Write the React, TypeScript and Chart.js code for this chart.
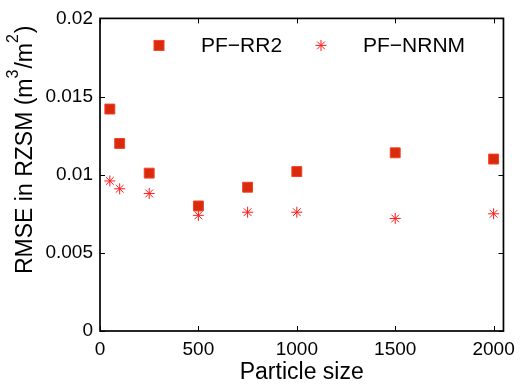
import React, { useEffect, useRef } from "react";
import { Chart, registerables } from "chart.js";

Chart.register(...registerables);

const particleSizes = [50, 100, 250, 500, 750, 1000, 1500, 2000];
const pfRR2 = [0.0142, 0.0120, 0.0101, 0.0080, 0.0092, 0.0102, 0.0114, 0.0110];
const pfNRNM = [0.0096, 0.0091, 0.0088, 0.0074, 0.0076, 0.0076, 0.0072, 0.0075];
const xTicks = [0, 500, 1000, 1500, 2000];
const yTicks = [0, 0.005, 0.01, 0.015, 0.02];
const yTickLabels = ["0", "0.005", "0.01", "0.015", "0.02"];
const seriesNames = ["PF\u2212RR2", "PF\u2212NRNM"];
const xTitle = "Particle size";
// y title pieces: [text, isSuperscript]
const yTitleParts: [string, boolean][] = [
  ["RMSE in RZSM (m", false],
  ["3", true],
  ["/m", false],
  ["2", true],
  [")", false],
];

const FONT = "'Liberation Sans', Arial, Helvetica, sans-serif";
const SQ_FILL = "#d92b0b";
const SQ_EDGE = "#f5402a";
const STAR_COLOR = "#ff1a1a";

const framePlugin = {
  id: "frame",
  afterDraw(chart: any) {
    const { ctx, chartArea } = chart;
    const xs = chart.scales.x;
    const ys = chart.scales.y;
    const { left, right, top, bottom } = chartArea;
    ctx.save();
    ctx.strokeStyle = "#000";
    ctx.lineWidth = 1.7;
    ctx.strokeRect(left, top, right - left, bottom - top);
    ctx.lineWidth = 1;
    const tl = 5;
    ctx.beginPath();
    xTicks.forEach((v) => {
      const px = Math.round(xs.getPixelForValue(v)) + 0.5;
      ctx.moveTo(px, bottom);
      ctx.lineTo(px, bottom - tl);
      ctx.moveTo(px, top);
      ctx.lineTo(px, top + tl);
    });
    yTicks.forEach((v) => {
      const py = Math.round(ys.getPixelForValue(v)) + 0.5;
      ctx.moveTo(left, py);
      ctx.lineTo(left + tl, py);
      ctx.moveTo(right, py);
      ctx.lineTo(right - tl, py);
    });
    ctx.stroke();

    // legend
    ctx.font = `21px ${FONT}`;
    ctx.textBaseline = "middle";
    const ly = top + 27;
    const s = 5;
    const sx = left + 59;
    ctx.fillStyle = SQ_FILL;
    ctx.fillRect(sx - s, ly - s, 2 * s, 2 * s);
    ctx.strokeStyle = SQ_EDGE;
    ctx.strokeRect(sx - s, ly - s, 2 * s, 2 * s);
    ctx.fillStyle = "#000";
    ctx.fillText(seriesNames[0], left + 101, ly + 1);
    const stx = left + 221;
    const r = 5.5;
    ctx.strokeStyle = STAR_COLOR;
    ctx.beginPath();
    for (let i = 0; i < 4; i++) {
      const a = (i * Math.PI) / 4;
      ctx.moveTo(stx - Math.cos(a) * r, ly - Math.sin(a) * r);
      ctx.lineTo(stx + Math.cos(a) * r, ly + Math.sin(a) * r);
    }
    ctx.stroke();
    ctx.fillStyle = "#000";
    ctx.fillText(seriesNames[1], left + 263, ly + 1);

    // y title with superscripts
    ctx.save();
    ctx.translate(32, 274);
    ctx.rotate(-Math.PI / 2);
    ctx.textBaseline = "alphabetic";
    ctx.textAlign = "left";
    ctx.fillStyle = "#000";
    let cx = 0;
    yTitleParts.forEach(([t, sup]) => {
      ctx.font = sup ? `16px ${FONT}` : `23px ${FONT}`;
      ctx.fillText(t, cx, sup ? -14 : 0);
      cx += ctx.measureText(t).width + (sup ? 1 : 0);
    });
    ctx.restore();

    ctx.restore();
  },
};

export default function App() {
  const ref = useRef<HTMLCanvasElement>(null);
  useEffect(() => {
    if (!ref.current) return;
    const chart = new Chart(ref.current, {
      type: "scatter",
      data: {
        datasets: [
          {
            label: seriesNames[0],
            data: particleSizes.map((x, i) => ({ x, y: pfRR2[i] })),
            pointStyle: "rect",
            radius: 7,
            backgroundColor: SQ_FILL,
            borderColor: SQ_EDGE,
            borderWidth: 1,
          },
          {
            label: seriesNames[1],
            data: particleSizes.map((x, i) => ({ x, y: pfNRNM[i] })),
            pointStyle: "star",
            radius: 5.5,
            backgroundColor: STAR_COLOR,
            borderColor: STAR_COLOR,
            borderWidth: 1,
          },
        ],
      },
      options: {
        animation: false,
        responsive: false,
        layout: { padding: { left: 0, right: 10, top: 17, bottom: 0 } },
        plugins: { legend: { display: false }, tooltip: { enabled: false } },
        scales: {
          x: {
            type: "linear",
            min: 0,
            max: 2050,
            afterBuildTicks: (axis: any) => {
              axis.ticks = xTicks.map((v) => ({ value: v }));
            },
            grid: { display: false, drawTicks: false },
            border: { display: false },
            ticks: {
              color: "#000",
              font: { family: FONT, size: 19 },
              padding: 7,
              maxRotation: 0,
              callback: (v: any) => String(v),
            },
            title: {
              display: true,
              text: xTitle,
              color: "#000",
              font: { family: FONT, size: 23, lineHeight: 1.0 },
              padding: { top: 0, bottom: 0 },
            },
            afterFit: (axis: any) => {
              axis.height = 53;
            },
          },
          y: {
            type: "linear",
            min: 0,
            max: 0.02,
            afterBuildTicks: (axis: any) => {
              axis.ticks = yTicks.map((v) => ({ value: v }));
            },
            grid: { display: false, drawTicks: false },
            border: { display: false },
            ticks: {
              color: "#000",
              font: { family: FONT, size: 19 },
              padding: 7,
              callback: (v: any) => {
                const i = yTicks.findIndex((t) => Math.abs(t - v) < 1e-9);
                return i >= 0 ? yTickLabels[i] : "";
              },
            },
            title: { display: false },
            afterFit: (axis: any) => {
              axis.width = 100;
            },
          },
        },
      },
      plugins: [framePlugin],
    });
    return () => chart.destroy();
  }, []);
  return (
    <div style={{ position: "fixed", left: 0, top: 0, width: 522, height: 384, background: "#fff" }}>
      <canvas ref={ref} width={522} height={384} />
    </div>
  );
}
